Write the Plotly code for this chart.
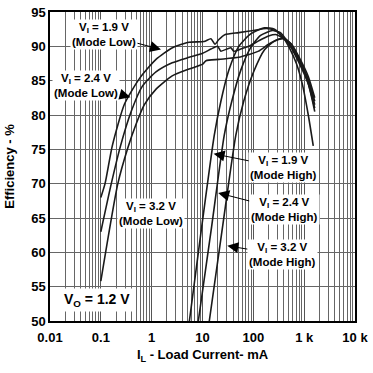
import plotly.graph_objects as go

# ---- data (load current in mA, efficiency in %) ----
low19_i = [0.100, 0.121, 0.168, 0.292, 0.574, 1.216, 2.57, 5.45, 10.7, 14.65, 17.54, 21.0, 27.5, 51.7, 101.5, 182, 286, 490, 769, 1205, 1615]
low19_e = [68, 70, 75.5, 81.6, 85.3, 88.1, 89.8, 90.6, 90.7, 91.1, 90.3, 91.0, 91.7, 92.0, 92.3, 92.6, 92.2, 90.5, 87.8, 84.5, 80.5]

low24_i = [0.100, 0.1606, 0.244, 0.395, 0.657, 1.233, 2.534, 5.45, 10.09, 14.65, 19.8, 23.0, 36.0, 41.25, 56.5, 81, 127, 199, 286, 448, 769, 1205, 1615]
low24_e = [63, 70, 75.5, 80.5, 84.2, 86.3, 87.6, 88.4, 89.0, 89.6, 90.0, 89.3, 89.8, 89.3, 89.6, 90.0, 90.8, 91.5, 91.7, 90.8, 88.2, 85.2, 82.0]

low32_i = [0.100, 0.216, 0.339, 0.501, 0.719, 1.233, 2.534, 5.45, 10.09, 11.7, 21.0, 51.7, 81, 127, 199, 313, 409, 561, 769, 1205, 1615]
low32_e = [55.8, 70, 75.2, 78.8, 81.5, 83.8, 85.7, 86.7, 87.4, 87.9, 88.1, 88.4, 88.8, 89.3, 90.3, 91.0, 91.1, 90.3, 88.6, 85.6, 82.5]

high19_i = [5.52, 9.64, 17.0, 23.0, 32.9, 51.7, 88.6, 166, 261, 391, 536, 703, 920, 1205, 1510]
high19_e = [50, 63.7, 77, 82, 86.5, 90, 91.8, 92.7, 92.5, 91.2, 89.5, 87.5, 84.5, 80.0, 75.5]

high24_i = [8.27, 15.1, 26.7, 37.7, 56.5, 88.6, 139, 238.6, 342, 513, 769, 1205, 1615]
high24_e = [50, 63.7, 77, 82, 86.5, 89.8, 91.6, 92.3, 92.0, 90.3, 88.2, 84.8, 81.5]

high32_i = [13.6, 24.8, 45.1, 64.7, 101.5, 166, 261, 391, 561, 841, 1205, 1615]
high32_e = [50, 63.7, 77, 82, 86.3, 89.5, 90.8, 91.2, 90.3, 87.8, 84.6, 81.0]

x_tickvals = [0.01, 0.1, 1, 10, 100, 1000, 10000]
x_ticktext = ["0.01", "0.1", "1", "10", "100", "1 k", "10 k"]
y_tickvals = [50, 55, 60, 65, 70, 75, 80, 85, 90, 95]

FONT = "Liberation Sans, Arial, sans-serif"

fig = go.Figure()
for xs, ys in [(low19_i, low19_e), (low24_i, low24_e), (low32_i, low32_e),
               (high19_i, high19_e), (high24_i, high24_e), (high32_i, high32_e)]:
    fig.add_trace(go.Scatter(x=xs, y=ys, mode="lines",
                             line=dict(color="#1a1a1a", width=1.6, shape="spline", smoothing=0.6),
                             hoverinfo="skip"))

fig.update_xaxes(type="log", range=[-2, 4], tickvals=x_tickvals, ticktext=x_ticktext,
                 showgrid=True, gridcolor="#555555", gridwidth=1,
                 minor=dict(dtick="D1", showgrid=True, gridcolor="#666666", gridwidth=1, ticks=""),
                 showline=True, linecolor="black", linewidth=1.5, mirror=True,
                 ticks="", zeroline=False, ticklabelstandoff=4, ticklabeloverflow="allow",
                 tickfont=dict(family=FONT, size=13, color="black", weight="bold"),
                 title=dict(text="I<sub>L</sub> - Load Current- mA",
                            font=dict(family=FONT, size=13, color="black", weight="bold"),
                            standoff=6))
fig.update_yaxes(range=[50, 95], tickvals=y_tickvals,
                 showgrid=True, gridcolor="#666666", gridwidth=1,
                 showline=True, linecolor="black", linewidth=1.5, mirror=True,
                 ticks="outside", ticklen=0, tickcolor="rgba(0,0,0,0)", zeroline=False,
                 ticklabeloverflow="allow",
                 tickfont=dict(family=FONT, size=13, color="black", weight="bold"),
                 title=dict(text="Efficiency - %",
                            font=dict(family=FONT, size=13, color="black", weight="bold"),
                            standoff=14))

afont = dict(family=FONT, size=11.5, color="black", weight="bold")
anns = [
    # (x_log, y, text, ax, ay)
    (0.183, 89.55, "V<sub>I</sub> = 1.9 V<br>(Mode Low)", -57, -15),
    (-0.417, 82.6, "V<sub>I</sub> = 2.4 V<br>(Mode Low)", -44, -12),
    (1.219, 74.35, "V<sub>I</sub> = 1.9 V<br>(Mode High)", 70, 14),
    (1.309, 68.65, "V<sub>I</sub> = 2.4 V<br>(Mode High)", 66, 17),
    (1.488, 60.95, "V<sub>I</sub> = 3.2 V<br>(Mode High)", 55, 9),
]
for xl, yv, txt, ax, ay in anns:
    fig.add_annotation(x=xl, y=yv, xref="x", yref="y", text=txt, showarrow=True,
                       ax=ax, ay=ay, arrowhead=2, arrowsize=2.2, arrowwidth=1,
                       arrowcolor="black", bgcolor="white", font=afont, align="center",
                       borderpad=1)
fig.add_annotation(x=-0.0066, y=65.65, xref="x", yref="y",
                   text="V<sub>I</sub> = 3.2 V<br>(Mode Low)", showarrow=False,
                   bgcolor="white", font=afont, align="center", borderpad=1)
fig.add_annotation(x=-1.081, y=53.1, xref="x", yref="y",
                   text="V<sub>O</sub> = 1.2 V", showarrow=False,
                   bgcolor="white", font=dict(family=FONT, size=14, color="black", weight="bold"),
                   borderpad=2)

fig.update_layout(width=373, height=373, margin=dict(l=50, r=16, t=5, b=52),
                  plot_bgcolor="white", paper_bgcolor="white", showlegend=False)

fig.write_html("out.html", config={"displayModeBar": False},
               post_script="document.body.style.margin='0';")
